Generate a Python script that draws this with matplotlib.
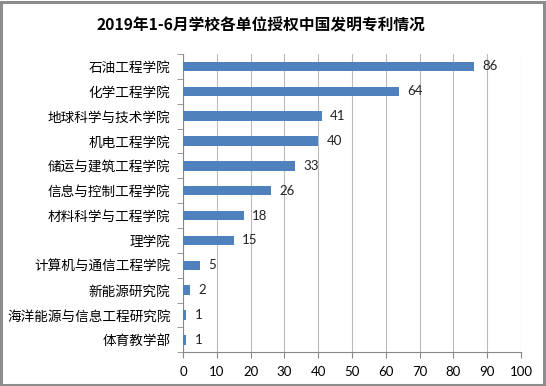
import matplotlib
matplotlib.use("Agg")
import matplotlib.pyplot as plt
from matplotlib.patches import Rectangle

plt.rcParams['font.family'] = ['Noto Sans CJK SC', 'DejaVu Sans']

units = ["石油工程学院", "化学工程学院", "地球科学与技术学院", "机电工程学院",
         "储运与建筑工程学院", "信息与控制工程学院", "材料科学与工程学院", "理学院",
         "计算机与通信工程学院", "新能源研究院", "海洋能源与信息工程研究院", "体育教学部"]
patents = [86, 64, 41, 40, 33, 26, 18, 15, 5, 2, 1, 1]
xticks = list(range(0, 101, 10))

num_font = ["Lato", "DejaVu Sans"]

fig = plt.figure(figsize=(5.46, 3.86), dpi=100)
ax = fig.add_axes([0.3352, 0.0873, 0.619, 0.7728])

ypos = list(range(len(units)))
ax.barh(ypos, patents, height=0.38, color="#4F81BD", zorder=3)
for y, v in zip(ypos, patents):
    ax.annotate(str(v), (v, y), xytext=(6, 0), textcoords="offset points",
                va="center", ha="left", fontsize=9.5, family=num_font, color="#222222")

ax.set_ylim(len(units) - 0.5, -0.5)
ax.set_xlim(0, 100)
ax.set_xticks(xticks)
ax.set_xticklabels([str(t) for t in xticks], family=num_font, fontsize=9.5)
ax.set_yticks(ypos)
ax.set_yticklabels(units, fontsize=9.8)
ax.set_yticks([i - 0.5 for i in range(len(units) + 1)], minor=True)
ax.tick_params(axis="y", which="major", length=0, pad=9)
ax.tick_params(axis="y", which="minor", length=4, color="#888888")
ax.tick_params(axis="x", length=4, color="#888888", pad=6)
ax.grid(axis="x", color="#BBBBBB", linewidth=0.8, zorder=0)
for s in ["top", "right"]:
    ax.spines[s].set_visible(False)
for s in ["left", "bottom"]:
    ax.spines[s].set_color("#888888")
    ax.spines[s].set_linewidth(0.8)

fig.text(0.478, 0.935, "2019年1-6月学校各单位授权中国发明专利情况", fontsize=11.3,
         fontweight="bold", ha="center", va="center")

fig.patches.append(Rectangle((0.002, 0.003), 0.994, 0.992, transform=fig.transFigure,
                             fill=False, edgecolor="#8C8C8C", linewidth=2.2))

fig.savefig("out.png", dpi=100)
